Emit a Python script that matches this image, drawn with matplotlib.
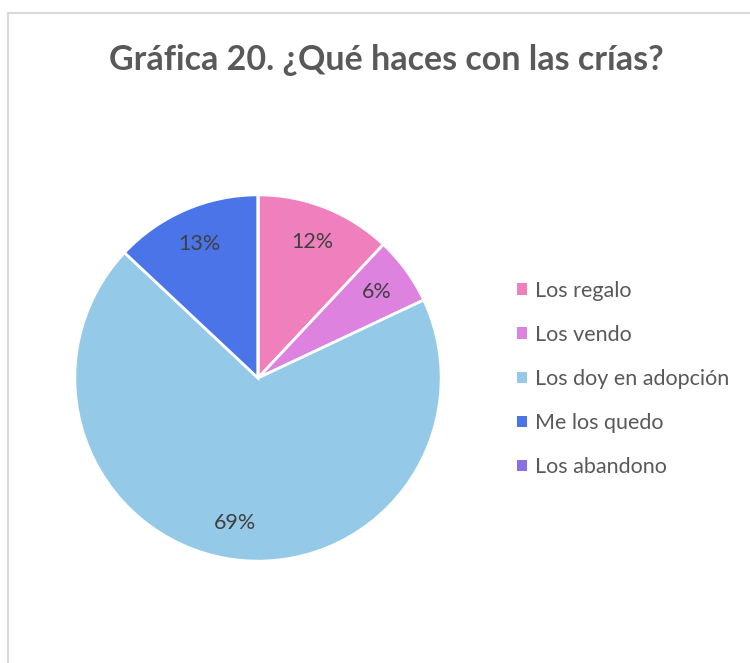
import matplotlib.pyplot as plt
from matplotlib.patches import Patch
from matplotlib.lines import Line2D

# Data
categories = ['Los regalo', 'Los vendo', 'Los doy en adopción', 'Me los quedo', 'Los abandono']
values = [12, 6, 69, 13, 0]
colors = ['#F07FBE', '#DE82E0', '#95C9E8', '#4A74E8', '#8A6FE0']
title = 'Gráfica 20. ¿Qué haces con las crías?'

plt.rcParams['font.family'] = ['Lato', 'DejaVu Sans']

fig = plt.figure(figsize=(7.5, 6.63), dpi=100)
fig.patch.set_facecolor('white')

# chart frame (only top and left edges are visible in the crop)
fig.add_artist(Line2D([8 / 750, 1], [1 - 13 / 663, 1 - 13 / 663], color='#D9D9D9', lw=1.5))
fig.add_artist(Line2D([8 / 750, 8 / 750], [0, 1 - 13 / 663], color='#D9D9D9', lw=1.5))

fig.text(386 / 750, 1 - 60 / 663, title, ha='center', va='center',
         fontsize=24.5, fontweight='bold', color='#595959')

ax = fig.add_axes([73 / 750, 100 / 663, 370 / 750, 370 / 663])
wedges, texts, autotexts = ax.pie(
    values, colors=colors, startangle=90, counterclock=False,
    autopct=lambda p: f'{p:.0f}%' if p > 0 else '', pctdistance=0.8,
    wedgeprops=dict(edgecolor='white', linewidth=2),
    textprops=dict(fontsize=15.5, color='#404040'))
ax.set_xlim(-1.01, 1.01)
ax.set_ylim(-1.01, 1.01)

handles = [Patch(facecolor=c, edgecolor='none') for c in colors]
fig.legend(handles, categories, loc='center left',
           bbox_to_anchor=(498 / 750, 1 - 379 / 663), frameon=False,
           fontsize=15.5, labelcolor='#595959', handlelength=0.45, handleheight=0.45,
           handletextpad=0.35, labelspacing=1.12)

plt.savefig('out.png', dpi=100)
